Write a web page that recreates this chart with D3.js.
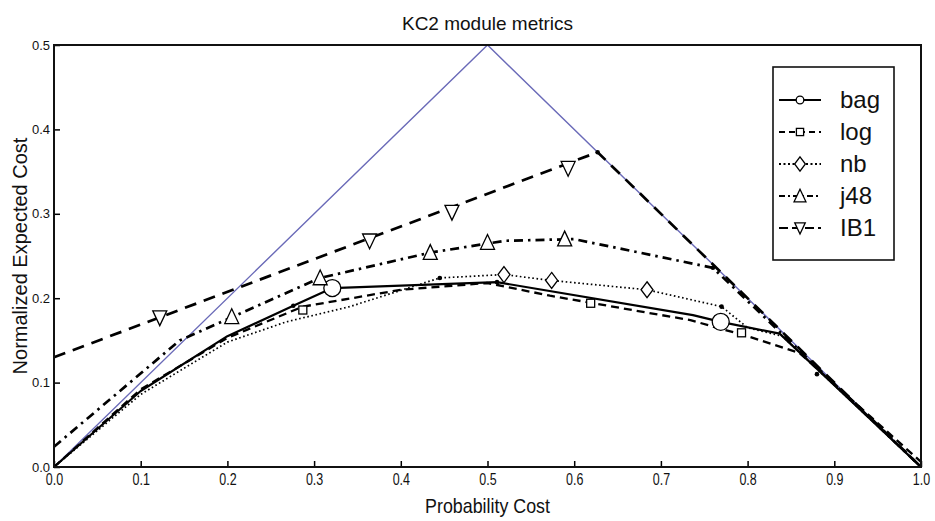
<!DOCTYPE html>
<html><head><meta charset="utf-8">
<script src="https://cdn.jsdelivr.net/npm/d3@7"></script>
<style>
html,body{margin:0;padding:0;background:#fff;}
svg{display:block;}
</style></head>
<body>
<script>
// ---------- data ----------
const title = "KC2 module metrics";
const xLabel = "Probability Cost";
const yLabel = "Normalized Expected Cost";
const xTicks = [0,0.1,0.2,0.3,0.4,0.5,0.6,0.7,0.8,0.9,1.0];
const yTicks = [0,0.1,0.2,0.3,0.4,0.5];

const trivialLine = [[0,0],[0.5,0.5],[1,0]];

const bagLine = [[0,0],[0.1,0.09],[0.2,0.155],[0.276,0.191],[0.321,0.212],[0.511,0.219],[0.737,0.18],[0.769,0.172],[0.837,0.158],[1,0]];
const logLine = [[0,0],[0.1,0.092],[0.2,0.153],[0.287,0.19],[0.4,0.21],[0.5,0.218],[0.572,0.203],[0.734,0.174],[0.803,0.154],[0.86,0.135],[1,0.006]];
const nbLine  = [[0,0],[0.1,0.086],[0.2,0.148],[0.268,0.172],[0.341,0.19],[0.445,0.224],[0.519,0.228],[0.574,0.221],[0.684,0.21],[0.77,0.19],[0.80,0.165],[0.84,0.155],[1,0]];
const j48Line = [[0,0.024],[0.145,0.15],[0.307,0.224],[0.434,0.254],[0.52,0.268],[0.6,0.27],[0.76,0.236],[1,0]];
const ib1Line = [[0,0.13],[0.627,0.373],[1,0]];

const bagMarks = [[0.321,0.212],[0.769,0.172]];
const logMarks = [[0.287,0.186],[0.619,0.194],[0.793,0.159]];
const nbMarks  = [[0.519,0.228],[0.574,0.221],[0.684,0.21]];
const j48Marks = [[0.205,0.178],[0.307,0.224],[0.434,0.254],[0.500,0.266],[0.589,0.270]];
const ib1Marks = [[0.122,0.177],[0.364,0.268],[0.459,0.302],[0.593,0.354]];
const vertexDots = [[0.276,0.191],[0.445,0.224],[0.77,0.19],[0.627,0.373],[0.76,0.236],[0.88,0.11],[0.511,0.219]];

const legendNames = ["bag","log","nb","j48","IB1"];

// ---------- layout ----------
const W = 935, H = 521;
const L = 54, R = 921, T = 45, B = 467;

const svg = d3.select("body").append("svg").attr("width",W).attr("height",H);
const x = d3.scaleLinear().domain([0,1]).range([L,R]);
const y = d3.scaleLinear().domain([0,0.5]).range([B,T]);

const series = [
  {name:"bag", line:bagLine, marks:bagMarks, dash:null, w:2.2, shape:"circle"},
  {name:"log", line:logLine, marks:logMarks, dash:"8,5", w:2.3, shape:"square"},
  {name:"nb", line:nbLine, marks:nbMarks, dash:"1.6,2.6", w:1.7, shape:"diamond"},
  {name:"j48", line:j48Line, marks:j48Marks, dash:"9,5,2.5,5", w:2.7, shape:"tri"},
  {name:"IB1", line:ib1Line, marks:ib1Marks, dash:"12,8", w:2.7, shape:"itri"}
];

const lineGen = d3.line().x(d=>x(d[0])).y(d=>y(d[1]));

svg.append("path").attr("d",lineGen(trivialLine)).attr("fill","none")
  .attr("stroke","#6a6ab8").attr("stroke-width",1.4);

series.forEach(s=>{
  svg.append("path").attr("d",lineGen(s.line)).attr("fill","none")
    .attr("stroke","#000").attr("stroke-width",s.w)
    .attr("stroke-dasharray",s.dash)
    .attr("stroke-linejoin","round");
});

svg.selectAll("circle.vd").data(vertexDots).join("circle").attr("class","vd")
  .attr("cx",d=>x(d[0])).attr("cy",d=>y(d[1])).attr("r",2.3).attr("fill","#000");

function drawMarker(g, shape, cx, cy, k){
  let el;
  if(shape==="circle"){
    el = g.append("circle").attr("cx",cx).attr("cy",cy).attr("r",8.5*k);
  } else if(shape==="square"){
    const s=8*k; el = g.append("rect").attr("x",cx-s/2).attr("y",cy-s/2).attr("width",s).attr("height",s);
  } else if(shape==="diamond"){
    const w=6*k,h=8*k;
    el = g.append("path").attr("d",`M${cx},${cy-h}L${cx+w},${cy}L${cx},${cy+h}L${cx-w},${cy}Z`);
  } else if(shape==="tri"){
    const w=7*k,h=8*k;
    el = g.append("path").attr("d",`M${cx},${cy-h}L${cx+w},${cy+h*0.85}L${cx-w},${cy+h*0.85}Z`);
  } else if(shape==="itri"){
    const w=7*k,h=8*k;
    el = g.append("path").attr("d",`M${cx-w},${cy-h*0.85}L${cx+w},${cy-h*0.85}L${cx},${cy+h}Z`);
  }
  el.attr("fill","#fff").attr("stroke","#000").attr("stroke-width",1.3);
}

const mg = svg.append("g");
series.forEach(s=>{
  s.marks.forEach(m=>drawMarker(mg, s.shape, x(m[0]), y(m[1]), 1));
});

// ---------- axes ----------
const xAxis = d3.axisBottom(x).tickValues(xTicks).tickFormat(d3.format(".1f"))
  .tickSizeInner(-6).tickSizeOuter(0).tickPadding(7);
const gx = svg.append("g").attr("transform",`translate(0,${B})`).call(xAxis);
gx.select(".domain").remove();
gx.selectAll("line").attr("stroke","#000").attr("stroke-width",1.5);
gx.selectAll("text").attr("font-family","'Liberation Sans',Arial,sans-serif")
  .attr("font-size",16).attr("fill","#111").attr("transform","scale(0.78,1)");

const yAxis = d3.axisLeft(y).tickValues(yTicks).tickFormat(d3.format(".1f"))
  .tickSizeInner(-6).tickSizeOuter(0).tickPadding(4);
const gy = svg.append("g").attr("transform",`translate(${L},0)`).call(yAxis);
gy.select(".domain").remove();
gy.selectAll("line").attr("stroke","#000").attr("stroke-width",1.5);
gy.selectAll("text").attr("font-family","'Liberation Sans',Arial,sans-serif")
  .attr("font-size",13).attr("fill","#111");

// frame
svg.append("rect").attr("x",L).attr("y",T).attr("width",R-L).attr("height",B-T)
  .attr("fill","none").attr("stroke","#111").attr("stroke-width",2);

// titles
svg.append("text").attr("x",(L+R)/2).attr("y",30).attr("text-anchor","middle")
  .attr("font-family","'Liberation Sans',Arial,sans-serif").attr("font-size",19).attr("fill","#111")
  .text(title);
svg.append("text").attr("transform",`translate(${(L+R)/2},513) scale(0.85,1)`).attr("text-anchor","middle")
  .attr("font-family","'Liberation Sans',Arial,sans-serif").attr("font-size",21).attr("fill","#111")
  .text(xLabel);
svg.append("text").attr("transform",`translate(27,${(T+B)/2}) rotate(-90)`).attr("text-anchor","middle")
  .attr("font-family","'Liberation Sans',Arial,sans-serif").attr("font-size",20).attr("fill","#111")
  .text(yLabel);

// ---------- legend ----------
const lg = svg.append("g");
lg.append("rect").attr("x",773).attr("y",67).attr("width",121).attr("height",193)
  .attr("fill","#fff").attr("stroke","#111").attr("stroke-width",1.6);
const legDash = [null,"6,4","2,2.5","6,3,2,3","9,4"];
const legShapes = ["circle","square","diamond","tri","itri"];
const legScale = [0.45,0.9,0.9,0.85,0.75];
legendNames.forEach((n,i)=>{
  const cy = 100 + i*32;
  lg.append("line").attr("x1",779).attr("x2",821).attr("y1",cy).attr("y2",cy)
    .attr("stroke","#000").attr("stroke-width",1.8).attr("stroke-dasharray",legDash[i]);
  drawMarker(lg, legShapes[i], 800, cy, legScale[i]);
  lg.append("text").attr("x",840).attr("y",cy+8).attr("font-family","'Liberation Sans',Arial,sans-serif")
    .attr("font-size",24).attr("fill","#111").text(n);
});
</script>
</body></html>
